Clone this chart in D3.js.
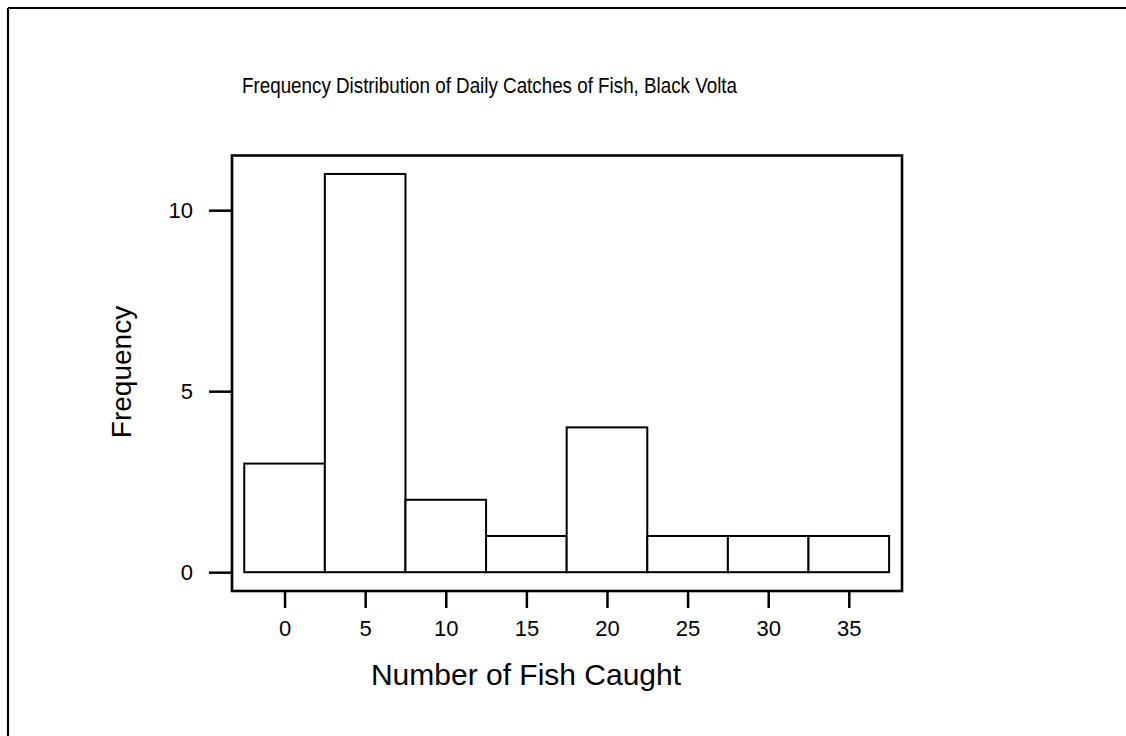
<!DOCTYPE html>
<html>
<head>
<meta charset="utf-8">
<script src="https://cdn.jsdelivr.net/npm/d3@7"></script>
<style>
  html, body { margin: 0; padding: 0; background: #fff; }
  svg { display: block; font-family: "Liberation Sans", Arial, Helvetica, sans-serif; }
</style>
</head>
<body>
<script>
// Histogram of daily fish catches (bins of width 5, centred on the tick values)
const binCenters = [0, 5, 10, 15, 20, 25, 30, 35];
const frequencies = [3, 11, 2, 1, 4, 1, 1, 1];
const binWidth = 5;
const xTickValues = [0, 5, 10, 15, 20, 25, 30, 35];
const yTickValues = [0, 5, 10];

const title = "Frequency Distribution of Daily Catches of Fish, Black Volta";
const xLabel = "Number of Fish Caught";
const yLabel = "Frequency";

const W = 1126, H = 736;
const box = { left: 232, top: 155.5, right: 902, bottom: 591 };

const svg = d3.select("body").append("svg")
  .attr("width", W).attr("height", H);

// page frame (top and left rules)
svg.append("line").attr("x1", 8).attr("x2", W).attr("y1", 8).attr("y2", 8)
  .attr("stroke", "#000").attr("stroke-width", 2);
svg.append("line").attr("x1", 8).attr("x2", 8).attr("y1", 8).attr("y2", H)
  .attr("stroke", "#000").attr("stroke-width", 2.2);

const x = d3.scaleLinear().domain([-3.26, 38.3]).range([box.left, box.right]);
const y = d3.scaleLinear().domain([-0.52, 11.51]).range([box.bottom, box.top]);

// bars
svg.append("g").selectAll("rect")
  .data(binCenters.map((c, i) => ({ c, f: frequencies[i] })))
  .join("rect")
  .attr("x", d => x(d.c - binWidth / 2))
  .attr("width", d => x(d.c + binWidth / 2) - x(d.c - binWidth / 2))
  .attr("y", d => y(d.f))
  .attr("height", d => y(0) - y(d.f))
  .attr("fill", "#fff")
  .attr("stroke", "#000")
  .attr("stroke-width", 2);

// plot box
svg.append("rect")
  .attr("x", box.left).attr("y", box.top)
  .attr("width", box.right - box.left).attr("height", box.bottom - box.top)
  .attr("fill", "none").attr("stroke", "#000").attr("stroke-width", 2.6);

// x axis
const xAxis = svg.append("g")
  .attr("transform", `translate(0,${box.bottom})`)
  .call(d3.axisBottom(x).tickValues(xTickValues).tickSize(17).tickPadding(12));
xAxis.select(".domain").remove();
xAxis.selectAll(".tick line").attr("stroke", "#000").attr("stroke-width", 2.5);
xAxis.selectAll(".tick text")
  .attr("fill", "#000").style("font-size", "22px")
  .style("font-family", '"Liberation Sans", Arial, sans-serif');

// y axis
const yAxis = svg.append("g")
  .attr("transform", `translate(${box.left},0)`)
  .call(d3.axisLeft(y).tickValues(yTickValues).tickSize(23).tickPadding(16));
yAxis.select(".domain").remove();
yAxis.selectAll(".tick line").attr("stroke", "#000").attr("stroke-width", 2.5);
yAxis.selectAll(".tick text")
  .attr("fill", "#000").style("font-size", "22px")
  .style("font-family", '"Liberation Sans", Arial, sans-serif');

// title
svg.append("text")
  .attr("x", 242).attr("y", 93)
  .attr("textLength", 495).attr("lengthAdjust", "spacingAndGlyphs")
  .style("font-size", "22px")
  .text(title);

// axis labels
svg.append("text")
  .attr("x", 526).attr("y", 685)
  .attr("text-anchor", "middle")
  .style("font-size", "30px")
  .text(xLabel);

svg.append("text")
  .attr("transform", "translate(131,372) rotate(-90)")
  .attr("text-anchor", "middle")
  .style("font-size", "28px")
  .text(yLabel);
</script>
</body>
</html>
